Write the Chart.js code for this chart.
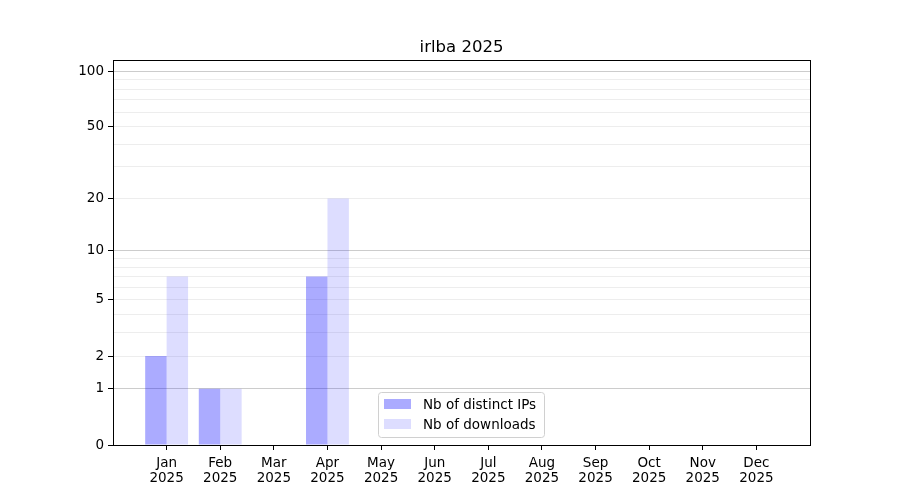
<!DOCTYPE html>
<html>
<head>
<meta charset="utf-8">
<script src="https://cdn.jsdelivr.net/npm/chart.js@4"></script>
<style>
  html, body { margin: 0; padding: 0; background: #fff; }
  #wrap { width: 900px; height: 500px; }
</style>
</head>
<body>
<div id="wrap"><canvas id="chart"></canvas></div>
<script>
/* ── data ── */
const TITLE = 'irlba 2025';
const YEAR = '2025';
const MONTHS = ['Jan','Feb','Mar','Apr','May','Jun','Jul','Aug','Sep','Oct','Nov','Dec'];
const DISTINCT_IPS = [2, 1, 0, 7, 0, 0, 0, 0, 0, 0, 0, 0];
const DOWNLOADS    = [7, 1, 0, 20, 0, 0, 0, 0, 0, 0, 0, 0];
const Y_LABELED = [0, 1, 2, 5, 10, 20, 50, 100];
const Y_GRID    = [1, 2, 3, 4, 5, 6, 7, 8, 9, 10, 20, 30, 40, 50, 60, 70, 80, 90, 100];
const Y_MAJOR   = [1, 10, 100];
const SERIES_NAMES = ['Nb of distinct IPs', 'Nb of downloads'];

const FONT = '"DejaVu Sans", sans-serif';

/* ── log10(1 + x) scale ── */
const f = v => Math.log10(1 + v);

class Log1pScale extends Chart.LinearScale {
  static id = 'log1p';
  static defaults = {};
  determineDataLimits() {
    this.min = this.options.min;
    this.max = this.options.max;
  }
  buildTicks() {
    const vals = [0, ...Y_GRID].sort((a, b) => a - b);
    return vals.map(v => ({ value: v }));
  }
  configure() {
    super.configure();
    this._startValue = f(this.min);
    this._valueRange = f(this.max) - f(this.min);
  }
  getPixelForValue(value) {
    if (value === null || value === undefined || isNaN(value)) return NaN;
    return this.getPixelForDecimal((f(value) - this._startValue) / this._valueRange);
  }
  getValueForPixel(pixel) {
    const d = this.getDecimalForPixel(pixel);
    return Math.pow(10, this._startValue + d * this._valueRange) - 1;
  }
}
Chart.register(Log1pScale);

/* ── frame, title, legend ── */
const decorations = {
  id: 'decorations',
  afterDraw(chart) {
    const { ctx, chartArea: a } = chart;
    ctx.save();
    // frame
    ctx.strokeStyle = '#000';
    ctx.lineWidth = 1;
    ctx.strokeRect(Math.round(a.left) + 0.5, Math.round(a.top) + 0.5,
                   Math.round(a.right - a.left), Math.round(a.bottom - a.top));
    // title
    ctx.fillStyle = '#000';
    ctx.font = '16.5px ' + FONT;
    ctx.textAlign = 'center';
    ctx.textBaseline = 'alphabetic';
    ctx.fillText(TITLE, (a.left + a.right) / 2, 52);
    // legend
    const lx = 378, ly = 392, lw = 166, lh = 45;
    ctx.fillStyle = 'rgba(255,255,255,0.8)';
    ctx.strokeStyle = '#d0d0d0';
    ctx.beginPath();
    ctx.roundRect(lx + 0.5, ly + 0.5, lw, lh, 3);
    ctx.fill();
    ctx.stroke();
    ctx.font = '13.5px ' + FONT;
    ctx.textAlign = 'left';
    ctx.textBaseline = 'middle';
    chart.data.datasets.forEach((ds, i) => {
      const y = ly + 12 + i * 20;
      ctx.fillStyle = ds.backgroundColor;
      ctx.fillRect(lx + 6, y - 5, 27, 10);
      ctx.fillStyle = '#000';
      ctx.fillText(SERIES_NAMES[i], lx + 45, y + 1);
    });
    ctx.restore();
  }
};

/* ── chart ── */
new Chart(document.getElementById('chart'), {
  type: 'bar',
  data: {
    datasets: [
      {
        label: SERIES_NAMES[0],
        data: DISTINCT_IPS.map((v, i) => ({ x: i, y: v })),
        backgroundColor: 'rgba(0,0,255,0.33)',
        borderWidth: 0,
        categoryPercentage: 0.8,
        barPercentage: 1.0
      },
      {
        label: SERIES_NAMES[1],
        data: DOWNLOADS.map((v, i) => ({ x: i, y: v })),
        backgroundColor: 'rgba(0,0,255,0.135)',
        borderWidth: 0,
        categoryPercentage: 0.8,
        barPercentage: 1.0
      }
    ]
  },
  options: {
    responsive: true,
    maintainAspectRatio: false,
    animation: false,
    layout: { padding: { top: 60, right: 90, left: 0, bottom: 0 } },
    plugins: {
      legend: { display: false },
      title: { display: false },
      tooltip: { enabled: false }
    },
    scales: {
      x: {
        type: 'linear',
        min: -1,
        max: 12,
        offset: false,
        afterBuildTicks: s => { s.ticks = MONTHS.map((m, i) => ({ value: i })); },
        afterFit: s => { s.height = 55; },
        border: { display: true, color: '#000', width: 1 },
        grid: { offset: false, drawOnChartArea: false, drawTicks: true, tickLength: 5, tickColor: '#000' },
        ticks: {
          autoSkip: false,
          maxRotation: 0,
          padding: 6,
          color: '#000',
          font: { family: FONT, size: 13.5, lineHeight: 1.1 },
          callback: v => [MONTHS[v], YEAR]
        }
      },
      y: {
        type: 'log1p',
        min: 0,
        max: 115,
        afterFit: s => { s.width = 113; },
        border: { display: true, color: '#000', width: 1 },
        grid: {
          drawTicks: true,
          tickLength: 5,
          color: c => {
            const v = c.tick.value;
            if (v === 0) return 'rgba(0,0,0,0)';
            return Y_MAJOR.includes(v) ? 'rgba(0,0,0,0.2)' : 'rgba(0,0,0,0.07)';
          },
          tickColor: c => Y_LABELED.includes(c.tick.value) ? '#000' : 'rgba(0,0,0,0)'
        },
        ticks: {
          autoSkip: false,
          padding: 4,
          color: '#000',
          font: { family: FONT, size: 13.5 },
          callback: v => Y_LABELED.includes(v) ? String(v) : ''
        }
      }
    }
  },
  plugins: [decorations]
});
</script>
</body>
</html>
